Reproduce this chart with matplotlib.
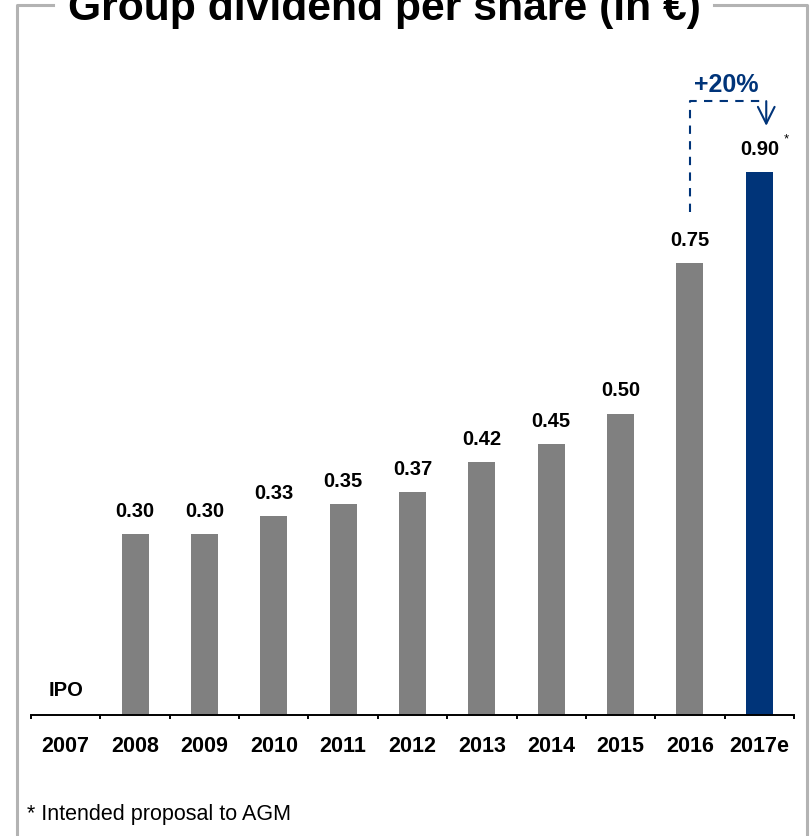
import numpy as np
import matplotlib.pyplot as plt
from matplotlib.lines import Line2D

plt.rcParams['font.family'] = ['Liberation Sans', 'DejaVu Sans']

years = ['2007', '2008', '2009', '2010', '2011', '2012', '2013', '2014', '2015', '2016', '2017e']
dividends = [0.0, 0.30, 0.30, 0.33, 0.35, 0.37, 0.42, 0.45, 0.50, 0.75, 0.90]
labels = ['', '0.30', '0.30', '0.33', '0.35', '0.37', '0.42', '0.45', '0.50', '0.75', '0.90']
growth_label = '+20%'

grey = '#808080'
navy = '#003479'
frame_grey = '#b3b3b3'

W, H = 811, 837
fig = plt.figure(figsize=(W / 100, H / 100), dpi=100)

# axes placed in pixel terms: baseline at y=716, x from 31 to 794
ax_left, ax_right, ax_base = 31, 794, 716
ymax = 1.1
px_per_unit = 603
ax = fig.add_axes([ax_left / W, (H - ax_base) / H, (ax_right - ax_left) / W, ymax * px_per_unit / H])

x = np.arange(len(years))
colors = [grey] * (len(years) - 1) + [navy]
ax.bar(x, dividends, width=0.39, color=colors, zorder=2)

ax.set_xlim(-0.5, len(years) - 0.5)
ax.set_ylim(0, ymax)
for s in ['top', 'right', 'left']:
    ax.spines[s].set_visible(False)
ax.spines['bottom'].set_linewidth(1.4)
ax.set_yticks([])
ax.set_xticks(x)
ax.set_xticklabels(years, fontsize=15.5, fontweight='bold')
ax.tick_params(axis='x', which='major', length=0, pad=14.5)
ax.set_xticks(np.arange(-0.5, len(years)), minor=True)
ax.tick_params(axis='x', which='minor', length=3.2, width=1.4, direction='out')
ax.patch.set_alpha(0)

# value labels above the bars
for xi, v, lab in zip(x, dividends, labels):
    if lab:
        ax.annotate(lab, (xi, v), xytext=(0, 13), textcoords='offset points',
                    ha='center', va='baseline', fontsize=14.5, fontweight='bold')
ax.annotate('*', (x[-1], dividends[-1]), xytext=(19.5, 22.5), textcoords='offset points',
            ha='center', va='baseline', fontsize=9.5)
ax.text(x[0], 0.043, 'IPO', ha='center', va='center', fontsize=14.5, fontweight='bold')

# growth bracket from 2016 to 2017e
top = dividends[-1] + 0.118
arrow_x = x[-1] + 0.1
ax.plot([x[-2], x[-2], arrow_x], [dividends[-2] + 0.084, top, top], color=navy,
        lw=1.5, ls=(0, (4, 3.5)), clip_on=False)
ax.annotate('', xy=(arrow_x, dividends[-1] + 0.077), xytext=(arrow_x, top),
            arrowprops=dict(arrowstyle='->,head_length=1.2,head_width=0.6', color=navy,
                            lw=1.5, shrinkA=0, shrinkB=0), annotation_clip=False)
ax.text((x[-2] + arrow_x) / 2 - 0.02, top + 0.017, growth_label, ha='center', va='baseline',
        fontsize=18, fontweight='bold', color=navy)

# frame around the panel, opened for the title
lw_frame = 2.2
fig.add_artist(Line2D([16.5 / W, 16.5 / W, 53 / W], [-5 / H, (H - 5.5) / H, (H - 5.5) / H],
                      transform=fig.transFigure, color=frame_grey, lw=lw_frame))
fig.add_artist(Line2D([714 / W, 806.5 / W, 806.5 / W], [(H - 5.5) / H, (H - 5.5) / H, -5 / H],
                      transform=fig.transFigure, color=frame_grey, lw=lw_frame))

fig.text(384 / W, (H - 20) / H, 'Group dividend per share (in €)', ha='center', va='baseline',
         fontsize=30.7, fontweight='bold')
fig.text(27 / W, (H - 820) / H, '* Intended proposal to AGM', ha='left', va='baseline', fontsize=15.5)

fig.savefig('out.png', dpi=100)
